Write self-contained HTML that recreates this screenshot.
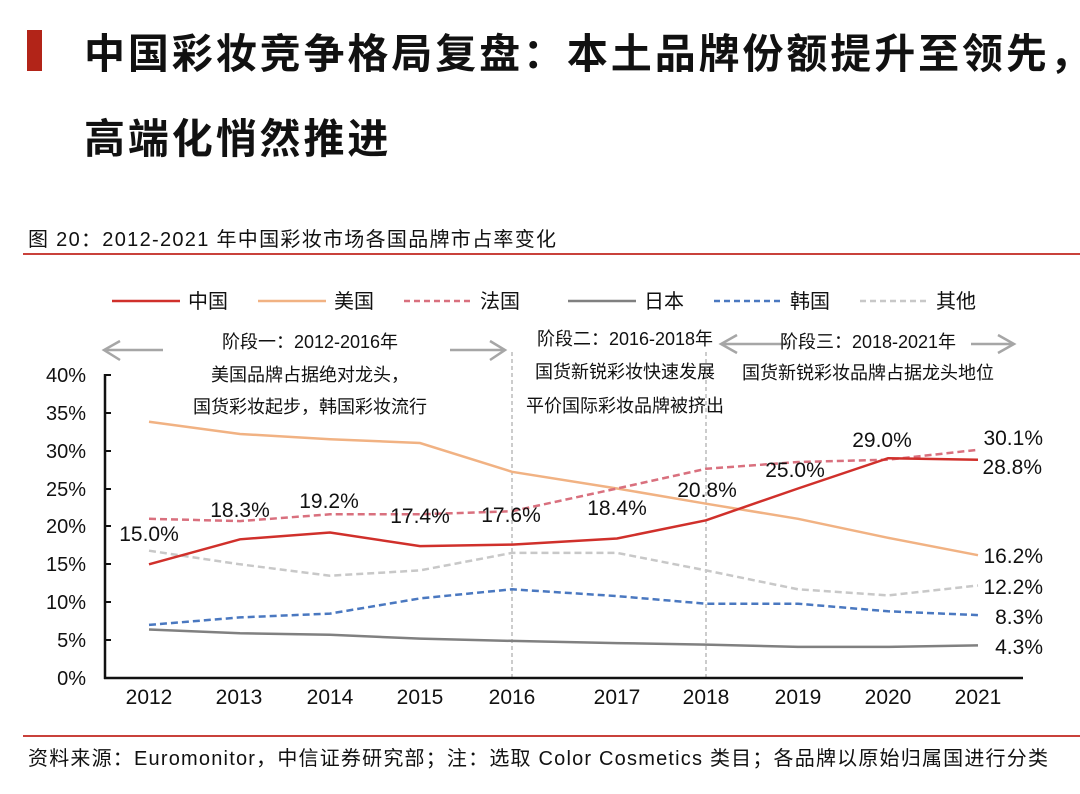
<!DOCTYPE html>
<html><head><meta charset="utf-8"><style>
html,body{margin:0;padding:0;background:#fff;}
body{width:1080px;height:789px;overflow:hidden;}
svg text{font-family:"Liberation Sans","Noto Sans CJK SC",sans-serif;}
</style></head><body>
<svg width="1080" height="789" viewBox="0 0 1080 789" xmlns="http://www.w3.org/2000/svg">
<rect x="27" y="30" width="15" height="41" fill="#b22418"/>
<text x="84" y="68" font-size="41" font-weight="bold" fill="#111" letter-spacing="2.9">中国彩妆竞争格局复盘：本土品牌份额提升至领先，</text>
<text x="84" y="153" font-size="41" font-weight="bold" fill="#111" letter-spacing="2.9">高端化悄然推进</text>
<text x="28" y="246" font-size="20" fill="#111" letter-spacing="1.3">图 20：2012-2021 年中国彩妆市场各国品牌市占率变化</text>
<line x1="23" y1="254" x2="1080" y2="254" stroke="#c9413b" stroke-width="2"/>
<line x1="23" y1="736" x2="1080" y2="736" stroke="#c9413b" stroke-width="2"/>
<text x="28" y="765" font-size="20" fill="#111" letter-spacing="1.2">资料来源：Euromonitor，中信证券研究部；注：选取 Color Cosmetics 类目；各品牌以原始归属国进行分类</text>

<g font-size="20" fill="#111">
<line x1="112" y1="301" x2="180" y2="301" stroke="#d0302b" stroke-width="2.5"/><text x="188" y="308">中国</text>
<line x1="258" y1="301" x2="326" y2="301" stroke="#f1b283" stroke-width="2.5"/><text x="334" y="308">美国</text>
<line x1="404" y1="301" x2="472" y2="301" stroke="#d9707e" stroke-width="2.5" stroke-dasharray="6,4"/><text x="480" y="308">法国</text>
<line x1="568" y1="301" x2="636" y2="301" stroke="#808080" stroke-width="2.5"/><text x="644" y="308">日本</text>
<line x1="714" y1="301" x2="782" y2="301" stroke="#4a78c0" stroke-width="2.5" stroke-dasharray="6,4"/><text x="790" y="308">韩国</text>
<line x1="860" y1="301" x2="928" y2="301" stroke="#c8c8c8" stroke-width="2.5" stroke-dasharray="6,4"/><text x="936" y="308">其他</text>
</g>

<g stroke="#a6a6a6" stroke-width="2.5" fill="none">
<line x1="104" y1="350" x2="163" y2="350"/><polyline points="120,341 104,350 120,360"/>
<line x1="450" y1="350" x2="505" y2="350"/><polyline points="490,341 505,350 490,360"/>
<line x1="721" y1="344" x2="790" y2="344"/><polyline points="737,335 721,344 737,353"/>
<line x1="971" y1="344" x2="1014" y2="344"/><polyline points="998,335 1014,344 998,353"/>
</g>
<g font-size="18" fill="#111" text-anchor="middle">
<text x="310" y="348">阶段一：2012-2016年</text>
<text x="310" y="381">美国品牌占据绝对龙头，</text>
<text x="310" y="413">国货彩妆起步，韩国彩妆流行</text>
<text x="625" y="345">阶段二：2016-2018年</text>
<text x="625" y="378">国货新锐彩妆快速发展</text>
<text x="625" y="412">平价国际彩妆品牌被挤出</text>
<text x="868" y="348">阶段三：2018-2021年</text>
<text x="868" y="379">国货新锐彩妆品牌占据龙头地位</text>
</g>
<line x1="512" y1="352" x2="512" y2="678" stroke="#999" stroke-width="1" stroke-dasharray="4,3"/>
<line x1="706" y1="352" x2="706" y2="678" stroke="#999" stroke-width="1" stroke-dasharray="4,3"/>

<g stroke="#111" stroke-width="2.5">
<line x1="105" y1="374" x2="105" y2="679"/>
<line x1="104" y1="678" x2="1023" y2="678"/>
</g>
<g stroke="#111" stroke-width="2">
<line x1="105" y1="375" x2="111" y2="375"/><line x1="105" y1="413" x2="111" y2="413"/><line x1="105" y1="451" x2="111" y2="451"/><line x1="105" y1="489" x2="111" y2="489"/><line x1="105" y1="526" x2="111" y2="526"/><line x1="105" y1="564" x2="111" y2="564"/><line x1="105" y1="602" x2="111" y2="602"/><line x1="105" y1="640" x2="111" y2="640"/>
</g>
<g font-size="20" fill="#111" text-anchor="end">
<text x="86" y="382">40%</text><text x="86" y="420">35%</text><text x="86" y="458">30%</text><text x="86" y="496">25%</text><text x="86" y="533">20%</text><text x="86" y="571">15%</text><text x="86" y="609">10%</text><text x="86" y="647">5%</text><text x="86" y="685">0%</text>
</g>
<g font-size="21" fill="#111" text-anchor="middle">
<text x="149" y="704">2012</text><text x="239" y="704">2013</text><text x="330" y="704">2014</text><text x="420" y="704">2015</text><text x="512" y="704">2016</text><text x="617" y="704">2017</text><text x="706" y="704">2018</text><text x="798" y="704">2019</text><text x="888" y="704">2020</text><text x="978" y="704">2021</text>
</g>

<g fill="none" stroke-width="2.5">
<polyline stroke="#808080" points="149,629.5 240,633.3 330,634.8 420,638.6 512,640.9 617,643.1 706,644.6 798,646.9 888,646.9 978,645.4"/>
<polyline stroke="#4a78c0" stroke-dasharray="7,4" points="149,624.9 240,617.4 330,613.6 420,598.4 512,589.3 617,596.1 706,603.7 798,603.7 888,611.3 978,615.1"/>
<polyline stroke="#c8c8c8" stroke-dasharray="7,4" points="149,550.7 240,564.3 330,575.7 420,570.4 512,552.9 617,552.9 706,570.4 798,589.3 888,595.4 978,585.5"/>
<polyline stroke="#f1b283" points="149,421.8 240,434.0 330,439.2 420,443.0 512,471.8 617,488.5 706,503.7 798,518.8 888,537.8 978,555.2"/>
<polyline stroke="#d9707e" stroke-dasharray="7,4" points="149,518.8 240,521.1 330,514.3 420,514.3 512,511.2 617,488.5 706,468.8 798,462.0 888,459.7 978,449.8"/>
<polyline stroke="#d0302b" points="149,564.3 240,539.3 330,532.5 420,546.1 512,544.6 617,538.5 706,520.3 798,488.5 888,458.2 978,459.7"/>
</g>
<g font-size="21" fill="#111" text-anchor="middle">
<text x="149" y="541">15.0%</text><text x="240" y="517">18.3%</text><text x="329" y="508">19.2%</text><text x="420" y="523">17.4%</text><text x="511" y="522">17.6%</text><text x="617" y="515">18.4%</text><text x="707" y="497">20.8%</text><text x="795" y="477">25.0%</text><text x="882" y="447">29.0%</text>
</g>
<g font-size="21" fill="#111" text-anchor="end">
<text x="1043" y="445">30.1%</text><text x="1042" y="474">28.8%</text><text x="1043" y="563">16.2%</text><text x="1043" y="594">12.2%</text><text x="1043" y="624">8.3%</text><text x="1043" y="654">4.3%</text>
</g>
</svg>
</body></html>
